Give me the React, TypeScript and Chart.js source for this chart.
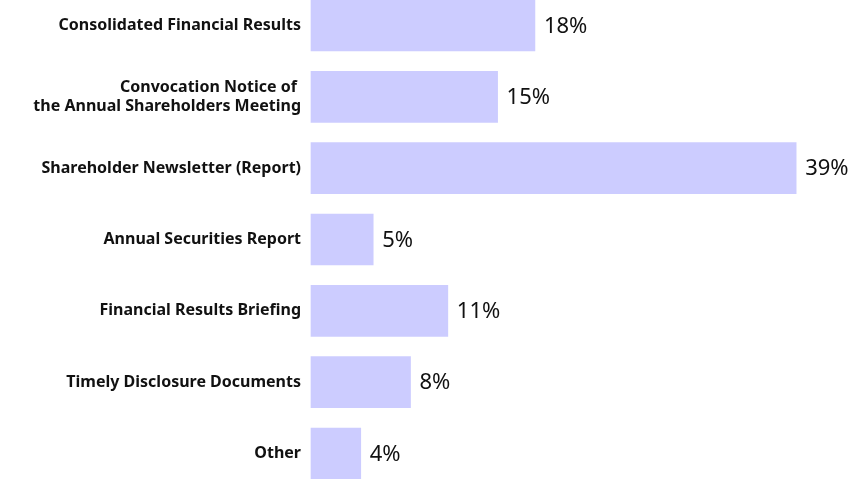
import React, { useEffect, useRef } from "react";
import { Chart, registerables } from "chart.js";

Chart.register(...registerables);

const categories: (string | string[])[] = [
  "Consolidated Financial Results",
  ["Convocation Notice of ", "the Annual Shareholders Meeting"],
  "Shareholder Newsletter (Report)",
  "Annual Securities Report",
  "Financial Results Briefing",
  "Timely Disclosure Documents",
  "Other",
];
const values = [18, 15, 39, 5, 11, 8, 4];
const valueLabels = ["18%", "15%", "39%", "5%", "11%", "8%", "4%"];

const FONT = "'Noto Sans', sans-serif";

const valueLabelPlugin = {
  id: "valueLabels",
  afterDatasetsDraw(chart: any) {
    const ctx = chart.ctx;
    const meta = chart.getDatasetMeta(0);
    ctx.save();
    ctx.font = `400 22px ${FONT}`;
    ctx.fillStyle = "#111";
    ctx.textAlign = "left";
    ctx.textBaseline = "middle";
    meta.data.forEach((bar: any, i: number) => {
      ctx.fillText(valueLabels[i], bar.x + 9, bar.y + 1);
    });
    ctx.restore();
  },
};

export default function App() {
  const ref = useRef<HTMLCanvasElement>(null);
  useEffect(() => {
    if (!ref.current) return;
    const chart = new Chart(ref.current, {
      type: "bar",
      data: {
        labels: categories as any,
        datasets: [
          {
            data: values,
            backgroundColor: "#ccccff",
            borderWidth: 0,
            barThickness: 51,
            clip: false as any,
          },
        ],
      },
      options: {
        indexAxis: "y",
        animation: false,
        responsive: false,
        maintainAspectRatio: false,
        layout: { padding: { top: 25.5, bottom: 25.5, left: 0, right: 41.4 } },
        plugins: { legend: { display: false }, tooltip: { enabled: false } },
        scales: {
          x: { display: false, min: 0, max: 40 },
          y: {
            offset: false,
            grid: { display: false, drawTicks: false },
            border: { display: false },
            afterFit: (scale: any) => {
              scale.width = 311;
            },
            ticks: {
              padding: 10,
              color: "#111",
              font: { family: FONT, size: 16, weight: "bold", lineHeight: 1.15 },
            },
          },
        },
      },
      plugins: [valueLabelPlugin],
    });
    return () => chart.destroy();
  }, []);
  return (
    <div style={{ position: "absolute", left: 0, top: 0, width: 850, height: 479, background: "#fff" }}>
      <canvas ref={ref} width={850} height={479} />
    </div>
  );
}
